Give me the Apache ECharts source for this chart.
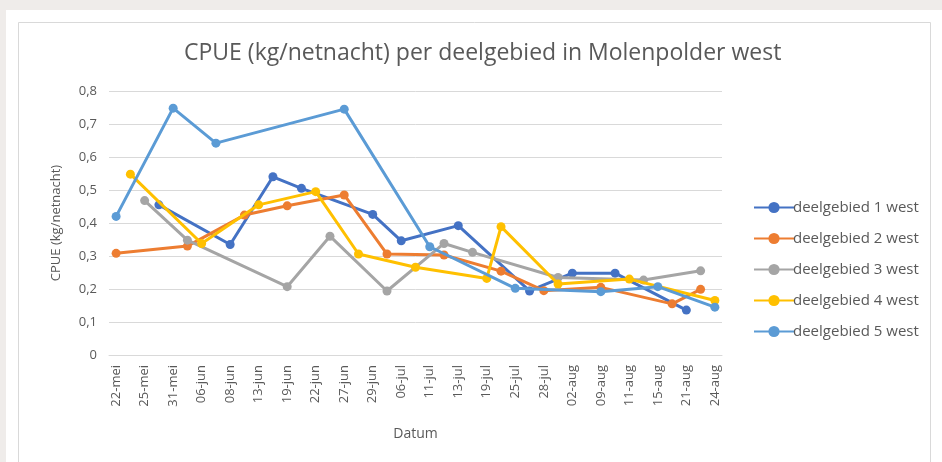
<!DOCTYPE html>
<html>
<head>
<meta charset="utf-8">
<script src="https://cdn.jsdelivr.net/npm/echarts@6/dist/echarts.min.js"></script>
<style>
    html, body { margin: 0; padding: 0; background: #fff; }
    #main { width: 942px; height: 462px; }
</style>
</head>
<body>
<div id="main"></div>
<script>
    // datums: alleen elke tweede staat als label op de as
    var datums = ['22-mei', '', '25-mei', '', '31-mei', '', '06-jun', '', '08-jun', '', '13-jun', '',
        '19-jun', '', '22-jun', '', '27-jun', '', '29-jun', '', '06-jul', '', '11-jul', '', '13-jul', '',
        '19-jul', '', '25-jul', '', '28-jul', '', '02-aug', '', '09-aug', '', '11-aug', '', '15-aug', '',
        '21-aug', '', '24-aug'];

    var namen = ['deelgebied 1 west', 'deelgebied 2 west', 'deelgebied 3 west', 'deelgebied 4 west', 'deelgebied 5 west'];
    var kleuren = ['#4472c4', '#ed7d31', '#a5a5a5', '#ffc000', '#5b9bd5'];

    // [index in datums, cpue]
    var gebied1 = [[3, 0.455], [8, 0.335], [11, 0.54], [13, 0.505], [18, 0.426], [20, 0.346], [24, 0.392],
        [29, 0.194], [32, 0.248], [35, 0.248], [40, 0.136]];
    var gebied2 = [[0, 0.308], [5, 0.33], [9, 0.424], [12, 0.452], [16, 0.485], [19, 0.306], [23, 0.303],
        [27, 0.254], [30, 0.195], [34, 0.205], [39, 0.155], [41, 0.199]];
    var gebied3 = [[2, 0.468], [5, 0.348], [12, 0.207], [15, 0.36], [19, 0.194], [23, 0.338], [25, 0.311],
        [31, 0.235], [37, 0.227], [41, 0.255]];
    var gebied4 = [[1, 0.548], [6, 0.338], [10, 0.455], [14, 0.495], [17, 0.306], [21, 0.266], [26, 0.232],
        [27, 0.389], [31, 0.215], [36, 0.23], [42, 0.165]];
    var gebied5 = [[0, 0.42], [4, 0.748], [7, 0.642], [16, 0.745], [22, 0.328], [28, 0.202], [34, 0.192],
        [38, 0.207], [42, 0.145]];

    var reeksen = [gebied1, gebied2, gebied3, gebied4, gebied5];

    function vulReeks(punten) {
        var arr = datums.map(function () { return null; });
        punten.forEach(function (p) { arr[p[0]] = p[1]; });
        return arr;
    }

    var myChart = echarts.init(document.getElementById('main'));
    var tekstKleur = '#595959';
    var font = 'Open Sans';

    var option = {
        backgroundColor: '#fff',
        animation: false,
        color: kleuren,
        graphic: [
            { type: 'rect', z: -10, shape: { x: 0, y: 0, width: 942, height: 10 }, style: { fill: '#efecea' } },
            { type: 'rect', z: -10, shape: { x: 0, y: 0, width: 6, height: 462 }, style: { fill: '#efecea' } },
            { type: 'rect', z: -9, shape: { x: 18.5, y: 22.5, width: 912, height: 460 },
              style: { fill: 'none', stroke: '#d9d9d9', lineWidth: 1 } }
        ],
        title: {
            text: 'CPUE (kg/netnacht) per deelgebied in Molenpolder west',
            left: 179,
            top: 37,
            textStyle: { fontFamily: font, fontSize: 23, fontWeight: 'normal', color: tekstKleur }
        },
        legend: {
            orient: 'vertical',
            left: 748,
            top: 195,
            itemWidth: 40,
            itemHeight: 14,
            itemGap: 16,
            textStyle: { fontFamily: font, fontSize: 15, color: tekstKleur, padding: [0, 0, 0, -6] },
            data: namen
        },
        grid: { left: 109, right: 220, top: 91, bottom: 107 },
        xAxis: {
            type: 'category',
            data: datums,
            boundaryGap: true,
            name: 'Datum',
            nameLocation: 'middle',
            nameGap: 72,
            nameTextStyle: { fontFamily: font, fontSize: 14, color: tekstKleur },
            axisLine: { lineStyle: { color: '#d9d9d9', width: 1 } },
            axisTick: { show: false },
            axisLabel: { interval: 1, rotate: 90, margin: 10, fontFamily: font, fontSize: 13, color: tekstKleur }
        },
        yAxis: {
            type: 'value',
            min: 0,
            max: 0.8,
            interval: 0.1,
            name: 'CPUE (kg/netnacht)',
            nameLocation: 'middle',
            nameGap: 46,
            nameTextStyle: { fontFamily: font, fontSize: 13, color: tekstKleur },
            axisLabel: {
                margin: 12, fontFamily: font, fontSize: 13, color: tekstKleur,
                formatter: function (v) { return v === 0 ? '0' : v.toFixed(1).replace('.', ','); }
            },
            splitLine: { lineStyle: { color: '#d9d9d9', width: 1 } }
        },
        series: reeksen.map(function (r, i) {
            return {
                name: namen[i],
                type: 'line',
                data: vulReeks(r),
                connectNulls: true,
                symbol: 'circle',
                symbolSize: 9,
                showAllSymbol: true,
                lineStyle: { width: 3 },
                z: 2 + i
            };
        })
    };
    option && myChart.setOption(option);
</script>
</body>
</html>
